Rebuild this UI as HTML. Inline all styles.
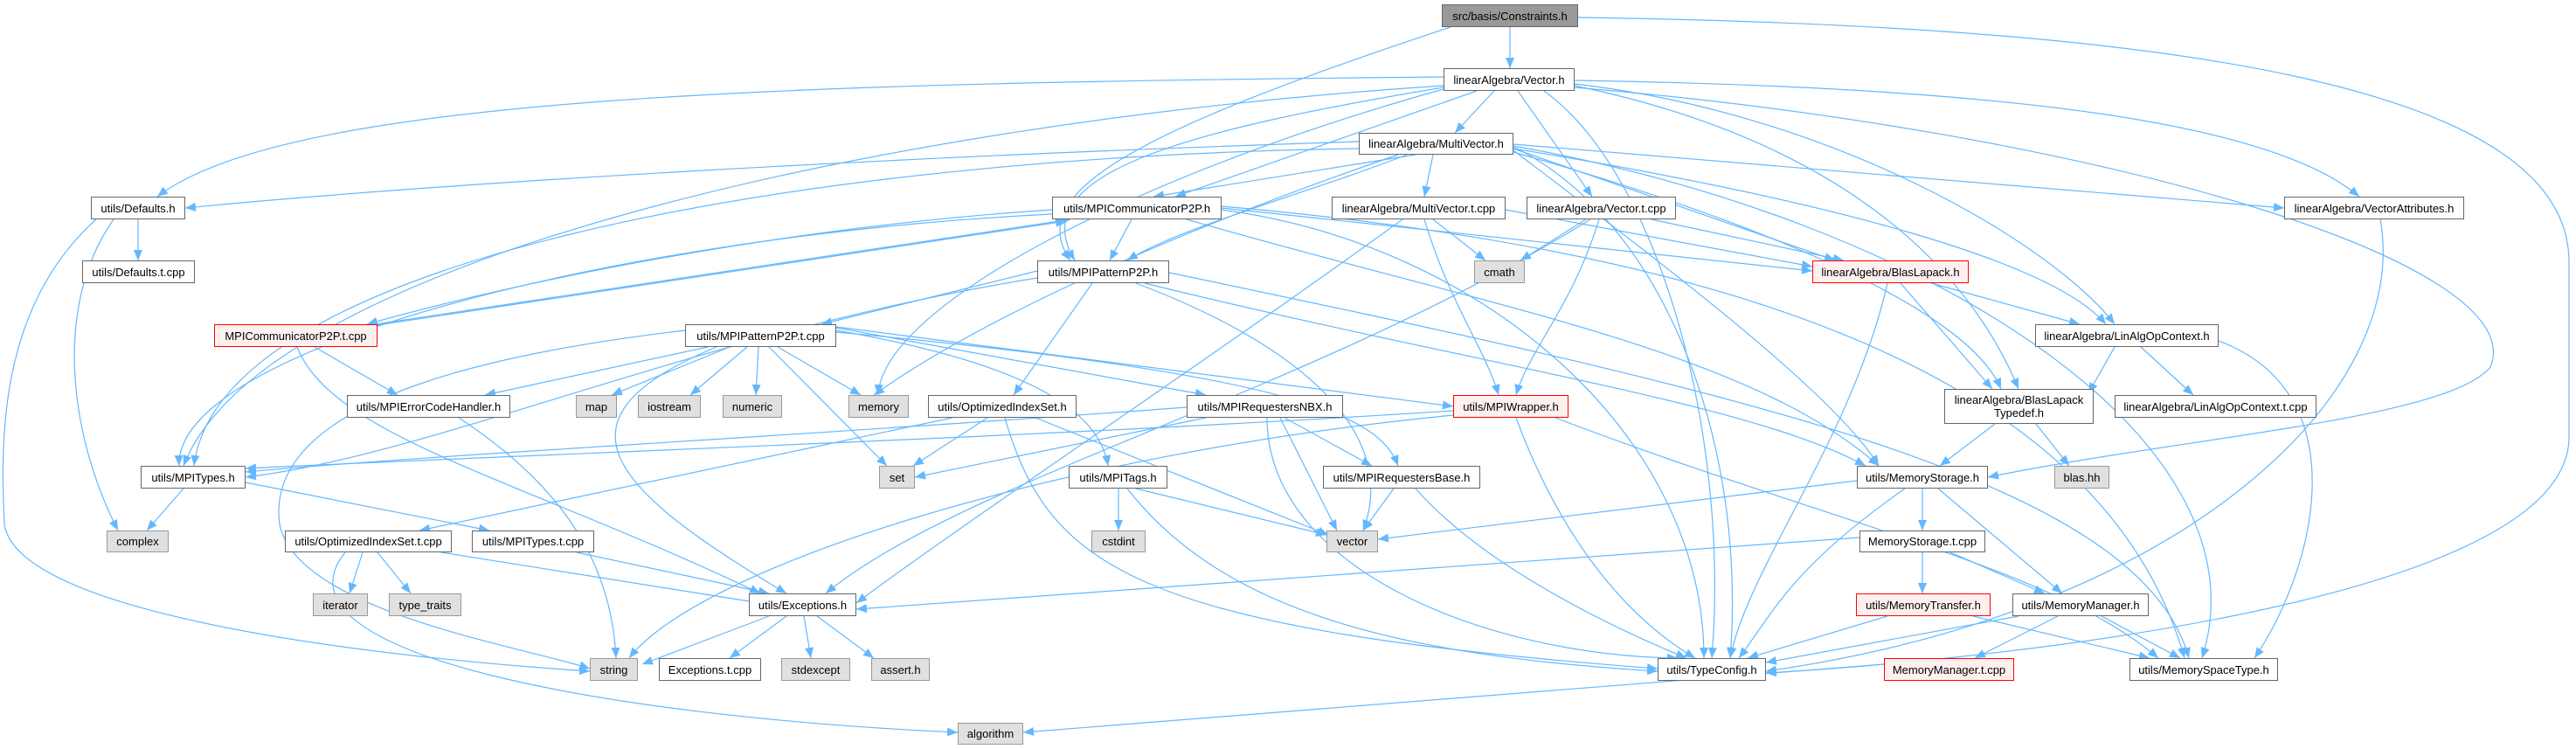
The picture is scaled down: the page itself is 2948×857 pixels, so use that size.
<!DOCTYPE html>
<html><head><meta charset="utf-8"><style>
body{margin:0;background:#fff;width:2948px;height:857px;position:relative;overflow:hidden;font-family:"Liberation Sans",Arial,sans-serif}
svg{position:absolute;left:0;top:0}
.n{position:absolute;box-sizing:border-box;border:1.5px solid #666;background:#fff;font-size:13px;color:#000;display:flex;align-items:center;justify-content:center;text-align:center;line-height:15px;white-space:nowrap}
.g{background:#e0e0e0;border-color:#999}
.r{background:#fff0f0;border-color:#f00}
.k{background:#999;border-color:#666}
</style></head><body>
<svg width="2948" height="857" viewBox="0 0 2948 857">
<defs><marker id="a" markerUnits="userSpaceOnUse" markerWidth="12" markerHeight="10" refX="12" refY="5" orient="auto"><path d="M0,0 L12,5 L0,10 z" fill="#63b8ff"/></marker></defs>
<g fill="none" stroke="#63b8ff" stroke-width="1.2" marker-end="url(#a)">
<path d="M1728,31 L1728,78"/>
<path d="M1660,31 C1300,150 1170,220 1225,298"/>
<path d="M1806,20 C2500,30 2940,100 2940,300 L2940,500 C2940,700 2200,760 2021,770"/>
<path d="M1652,88 C900,95 330,110 180,225"/>
<path d="M1710,104 L1665,152"/>
<path d="M1690,104 L1345,225"/>
<path d="M1652,100 C1350,150 1170,200 1230,298"/>
<path d="M1652,98 C1000,140 300,300 210,533"/>
<path d="M1652,102 C1300,200 1010,350 1005,452"/>
<path d="M1737,104 L1822,225"/>
<path d="M1767,104 C1900,200 1980,500 1959,753"/>
<path d="M1802,92 C2300,100 2600,140 2700,225"/>
<path d="M1802,96 C2100,130 2350,280 2420,371"/>
<path d="M1802,100 C2400,150 2900,300 2850,420 C2800,480 2500,500 2275,546"/>
<path d="M1802,98 C2100,160 2250,300 2310,445"/>
<path d="M1555,162 C1000,180 500,210 212,238"/>
<path d="M1620,177 L1320,225"/>
<path d="M1610,177 C1500,220 1350,260 1290,298"/>
<path d="M1640,177 L1630,225"/>
<path d="M1555,170 C900,180 250,300 222,533"/>
<path d="M1600,177 C1300,280 1100,380 1000,452"/>
<path d="M1732,168 C1900,250 2000,500 1980,753"/>
<path d="M1732,165 L2614,238"/>
<path d="M1732,170 C2100,230 2350,300 2410,371"/>
<path d="M1732,172 C1900,300 2100,450 2150,533"/>
<path d="M1732,174 C2000,250 2250,350 2290,445"/>
<path d="M1732,167 C2200,250 2600,500 2520,753"/>
<path d="M1732,170 L2100,298"/>
<path d="M1295,251 L1270,298"/>
<path d="M1204,240 C900,260 600,320 420,371"/>
<path d="M1204,245 C700,270 200,400 205,533"/>
<path d="M1358,251 C1700,350 2000,400 2150,533"/>
<path d="M1398,240 C1700,280 1950,500 1950,753"/>
<path d="M1398,236 C1900,280 2400,400 2500,753"/>
<path d="M1398,238 L2074,310"/>
<path d="M430,371 L1225,251"/>
<path d="M425,373 L1220,253"/>
<path d="M360,397 L455,452"/>
<path d="M340,397 C380,500 600,550 870,679"/>
<path d="M1640,251 L1700,298"/>
<path d="M1630,251 C1660,350 1700,400 1715,452"/>
<path d="M1605,251 C1400,400 1100,600 980,690"/>
<path d="M1723,240 L2074,305"/>
<path d="M1815,251 L1740,298"/>
<path d="M1830,251 C1800,350 1750,400 1735,452"/>
<path d="M1820,251 C1500,450 1100,550 945,679"/>
<path d="M1890,251 L2110,298"/>
<path d="M1187,310 L940,371"/>
<path d="M1250,324 L1160,452"/>
<path d="M1187,318 C800,380 500,520 281,546"/>
<path d="M1300,324 C1500,400 1600,500 1560,607"/>
<path d="M1310,324 C1700,420 2000,460 2135,533"/>
<path d="M1338,312 C2000,450 2450,550 2505,753"/>
<path d="M835,397 L700,452"/>
<path d="M855,397 L790,452"/>
<path d="M868,397 L865,452"/>
<path d="M890,397 L985,452"/>
<path d="M880,397 L1015,533"/>
<path d="M784,378 C600,400 300,450 320,600 C340,700 600,740 675,765"/>
<path d="M810,397 L555,452"/>
<path d="M957,378 C1200,420 1260,480 1268,533"/>
<path d="M957,375 L1380,452"/>
<path d="M957,380 C1500,430 1580,480 1600,533"/>
<path d="M957,374 L1663,465"/>
<path d="M820,397 C620,480 700,560 900,679"/>
<path d="M1090,478 L480,607"/>
<path d="M1130,478 L1045,533"/>
<path d="M1185,478 L1520,612"/>
<path d="M1150,478 C1200,650 1300,720 1897,765"/>
<path d="M1470,478 L1570,533"/>
<path d="M1465,478 L1530,607"/>
<path d="M1380,478 L1047,546"/>
<path d="M1450,478 C1450,650 1700,750 1920,753"/>
<path d="M1358,466 C900,500 500,520 281,540"/>
<path d="M1663,470 C1200,500 600,520 281,536"/>
<path d="M1663,475 C1200,520 800,650 720,753"/>
<path d="M1735,478 C1780,600 1850,700 1940,753"/>
<path d="M1780,478 C2100,600 2350,650 2470,753"/>
<path d="M1280,559 L1280,607"/>
<path d="M1300,559 L1518,612"/>
<path d="M1290,559 C1400,700 1600,750 1897,768"/>
<path d="M1595,559 L1560,607"/>
<path d="M1620,559 C1700,650 1850,720 1930,753"/>
<path d="M210,559 L168,607"/>
<path d="M281,552 L560,607"/>
<path d="M660,632 L880,679"/>
<path d="M415,632 L400,679"/>
<path d="M432,632 L470,679"/>
<path d="M505,632 L870,690"/>
<path d="M395,632 C300,750 700,820 1096,838"/>
<path d="M880,705 L735,760"/>
<path d="M900,705 L835,753"/>
<path d="M920,705 L928,753"/>
<path d="M935,705 L1000,753"/>
<path d="M525,478 C650,560 700,650 705,753"/>
<path d="M158,251 L158,298"/>
<path d="M130,251 C60,350 80,500 135,607"/>
<path d="M110,251 C0,350 0,500 5,600 C20,700 400,750 675,768"/>
<path d="M2210,324 L2380,371"/>
<path d="M2175,324 L2280,445"/>
<path d="M2160,324 C2120,500 2000,650 1980,753"/>
<path d="M2420,397 L2390,450"/>
<path d="M2450,397 L2510,452"/>
<path d="M2539,390 C2700,450 2650,650 2580,753"/>
<path d="M2283,485 L2220,533"/>
<path d="M2330,485 L2368,533"/>
<path d="M2724,251 C2760,450 2500,700 2021,768"/>
<path d="M2200,559 L2200,607"/>
<path d="M2218,559 L2360,679"/>
<path d="M2180,559 C2050,650 2030,700 1990,753"/>
<path d="M2125,550 L1577,617"/>
<path d="M2200,632 L2200,679"/>
<path d="M2232,632 L2340,679"/>
<path d="M2128,615 L980,697"/>
<path d="M2160,705 L2000,753"/>
<path d="M2258,705 L2460,753"/>
<path d="M2355,705 L2260,753"/>
<path d="M2310,705 L2021,758"/>
<path d="M2405,705 L2495,753"/>
<path d="M2156,760 L1171,838"/>
</g></svg>
<div class="n k" style="left:1650px;top:5px;width:156px;height:26px">src/basis/Constraints.h</div>
<div class="n" style="left:1652px;top:78px;width:150px;height:26px">linearAlgebra/Vector.h</div>
<div class="n" style="left:1555px;top:152px;width:177px;height:25px">linearAlgebra/MultiVector.h</div>
<div class="n" style="left:104px;top:225px;width:108px;height:26px">utils/Defaults.h</div>
<div class="n" style="left:1204px;top:225px;width:194px;height:26px">utils/MPICommunicatorP2P.h</div>
<div class="n" style="left:1524px;top:225px;width:199px;height:26px">linearAlgebra/MultiVector.t.cpp</div>
<div class="n" style="left:1747px;top:225px;width:171px;height:26px">linearAlgebra/Vector.t.cpp</div>
<div class="n" style="left:2614px;top:225px;width:206px;height:26px">linearAlgebra/VectorAttributes.h</div>
<div class="n" style="left:94px;top:298px;width:129px;height:26px">utils/Defaults.t.cpp</div>
<div class="n" style="left:1187px;top:298px;width:151px;height:26px">utils/MPIPatternP2P.h</div>
<div class="n g" style="left:1687px;top:298px;width:58px;height:26px">cmath</div>
<div class="n r" style="left:2074px;top:298px;width:179px;height:26px">linearAlgebra/BlasLapack.h</div>
<div class="n r" style="left:245px;top:371px;width:187px;height:26px">MPICommunicatorP2P.t.cpp</div>
<div class="n" style="left:784px;top:371px;width:173px;height:26px">utils/MPIPatternP2P.t.cpp</div>
<div class="n" style="left:2329px;top:371px;width:210px;height:26px">linearAlgebra/LinAlgOpContext.h</div>
<div class="n" style="left:397px;top:452px;width:187px;height:26px">utils/MPIErrorCodeHandler.h</div>
<div class="n g" style="left:659px;top:452px;width:47px;height:26px">map</div>
<div class="n g" style="left:730px;top:452px;width:72px;height:26px">iostream</div>
<div class="n g" style="left:827px;top:452px;width:68px;height:26px">numeric</div>
<div class="n g" style="left:971px;top:452px;width:69px;height:26px">memory</div>
<div class="n" style="left:1062px;top:452px;width:170px;height:26px">utils/OptimizedIndexSet.h</div>
<div class="n" style="left:1358px;top:452px;width:179px;height:26px">utils/MPIRequestersNBX.h</div>
<div class="n r" style="left:1663px;top:452px;width:132px;height:26px">utils/MPIWrapper.h</div>
<div class="n" style="left:2225px;top:445px;width:171px;height:40px">linearAlgebra/BlasLapack<br>Typedef.h</div>
<div class="n" style="left:2420px;top:452px;width:231px;height:26px">linearAlgebra/LinAlgOpContext.t.cpp</div>
<div class="n" style="left:161px;top:533px;width:120px;height:26px">utils/MPITypes.h</div>
<div class="n g" style="left:1006px;top:533px;width:41px;height:26px">set</div>
<div class="n" style="left:1223px;top:533px;width:113px;height:26px">utils/MPITags.h</div>
<div class="n" style="left:1514px;top:533px;width:180px;height:26px">utils/MPIRequestersBase.h</div>
<div class="n" style="left:2125px;top:533px;width:150px;height:26px">utils/MemoryStorage.h</div>
<div class="n g" style="left:2351px;top:533px;width:63px;height:26px">blas.hh</div>
<div class="n g" style="left:122px;top:607px;width:71px;height:25px">complex</div>
<div class="n" style="left:326px;top:607px;width:191px;height:25px">utils/OptimizedIndexSet.t.cpp</div>
<div class="n" style="left:540px;top:607px;width:140px;height:25px">utils/MPITypes.t.cpp</div>
<div class="n g" style="left:1249px;top:607px;width:62px;height:25px">cstdint</div>
<div class="n g" style="left:1518px;top:607px;width:59px;height:25px">vector</div>
<div class="n" style="left:2128px;top:607px;width:144px;height:25px">MemoryStorage.t.cpp</div>
<div class="n g" style="left:358px;top:679px;width:63px;height:26px">iterator</div>
<div class="n g" style="left:445px;top:679px;width:83px;height:26px">type_traits</div>
<div class="n" style="left:857px;top:679px;width:123px;height:26px">utils/Exceptions.h</div>
<div class="n r" style="left:2124px;top:679px;width:154px;height:26px">utils/MemoryTransfer.h</div>
<div class="n" style="left:2303px;top:679px;width:156px;height:26px">utils/MemoryManager.h</div>
<div class="n g" style="left:675px;top:753px;width:55px;height:26px">string</div>
<div class="n" style="left:754px;top:753px;width:117px;height:26px">Exceptions.t.cpp</div>
<div class="n g" style="left:894px;top:753px;width:79px;height:26px">stdexcept</div>
<div class="n g" style="left:997px;top:753px;width:67px;height:26px">assert.h</div>
<div class="n" style="left:1897px;top:753px;width:124px;height:26px">utils/TypeConfig.h</div>
<div class="n r" style="left:2156px;top:753px;width:149px;height:26px">MemoryManager.t.cpp</div>
<div class="n" style="left:2437px;top:753px;width:170px;height:26px">utils/MemorySpaceType.h</div>
<div class="n g" style="left:1096px;top:827px;width:75px;height:25px">algorithm</div>
</body></html>
